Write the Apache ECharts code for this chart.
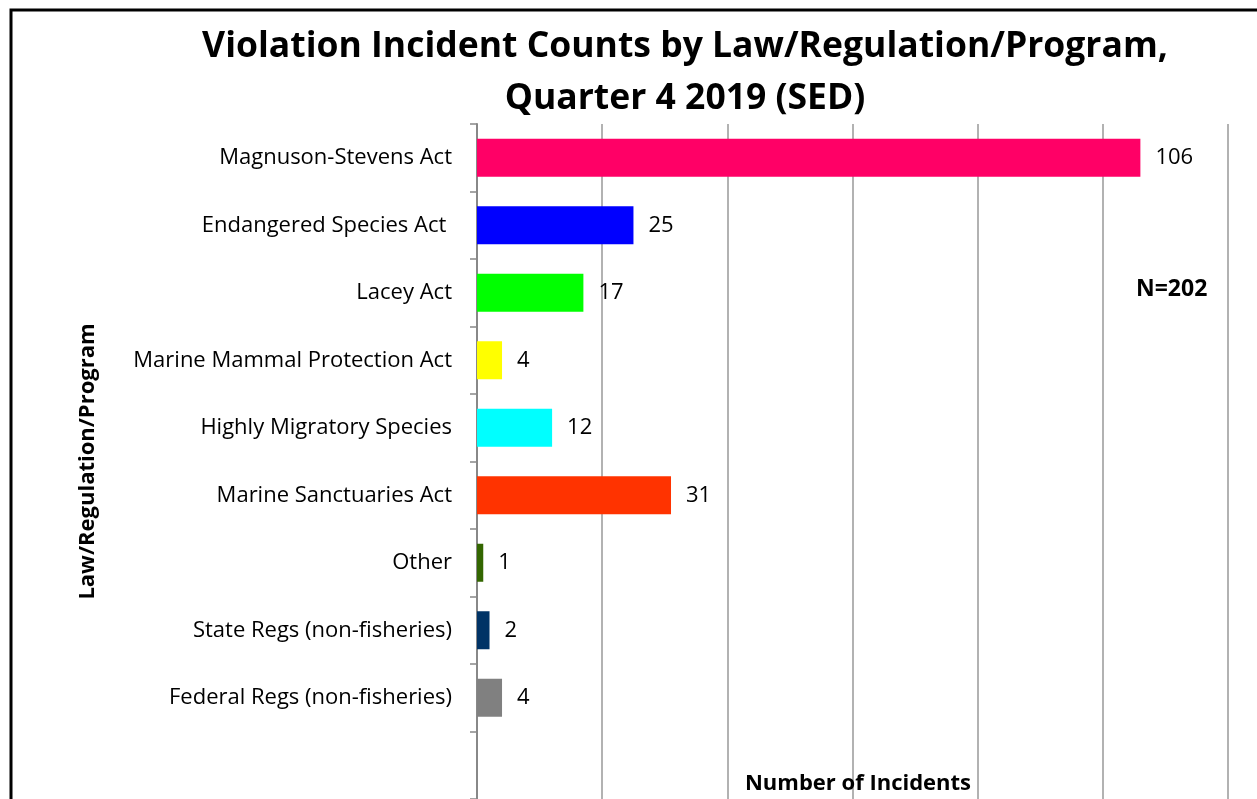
<!DOCTYPE html>
<html>
<head>
<meta charset="utf-8" />
<title>Violation Incident Counts</title>
<script src="https://cdn.jsdelivr.net/npm/echarts@6/dist/echarts.min.js"></script>
<style>
  html, body { margin: 0; padding: 0; background: #fff; }
  #chart { width: 1257px; height: 799px; }
</style>
</head>
<body>
<div id="chart"></div>
<script type="text/javascript">
// categories, top to bottom (last slot is empty in the original)
var categories = [
  'Magnuson-Stevens Act',
  'Endangered Species Act ',
  'Lacey Act',
  'Marine Mammal Protection Act',
  'Highly Migratory Species',
  'Marine Sanctuaries Act',
  'Other',
  'State Regs (non-fisheries)',
  'Federal Regs (non-fisheries)',
  ''
];
var counts = [106, 25, 17, 4, 12, 31, 1, 2, 4, null];
var barColors = ['#FF0066', '#0000FF', '#00FF00', '#FFFF00', '#00FFFF', '#FF3300', '#336600', '#003366', '#808080', '#808080'];

var font = '"Open Sans", Lato, sans-serif';

var chart = echarts.init(document.getElementById('chart'));

var barData = counts.map(function (v, i) {
  return { value: v, itemStyle: { color: barColors[i] } };
});

var option = {
  backgroundColor: '#fff',
  animation: false,
  title: [{
    text: 'Violation Incident Counts by Law/Regulation/Program,\nQuarter 4 2019 (SED)',
    left: 680,
    top: 16,
    textAlign: 'center',
    textStyle: { fontFamily: font, fontSize: 35.5, fontWeight: 'bold', color: '#000', lineHeight: 52 }
  }, {
    text: 'N=202',
    left: 1131,
    top: 273,
    textStyle: { fontFamily: font, fontSize: 23, fontWeight: 'bold', color: '#000' }
  }, {
    text: 'Number of Incidents',
    left: 853,
    top: 768,
    textAlign: 'center',
    textStyle: { fontFamily: font, fontSize: 22, fontWeight: 'bold', color: '#000' }
  }],
  graphic: [{
    type: 'rect',
    shape: { x: 11, y: 10, width: 1400, height: 900 },
    style: { fill: 'none', stroke: '#000', lineWidth: 3 },
    silent: true
  }],
  grid: { left: 477, right: 29, top: 124, bottom: -1 },
  xAxis: {
    type: 'value',
    min: 0,
    max: 120,
    interval: 20,
    axisLabel: { show: false },
    axisTick: { show: false },
    axisLine: { show: false },
    splitLine: { show: true, lineStyle: { color: '#999', width: 1.5 } }
  },
  yAxis: {
    type: 'category',
    inverse: true,
    data: categories,
    name: 'Law/Regulation/Program',
    nameLocation: 'middle',
    nameGap: 378,
    nameRotate: 90,
    nameTextStyle: { fontFamily: font, fontSize: 22, fontWeight: 'bold', color: '#000' },
    axisLine: { show: true, lineStyle: { color: '#888', width: 2 } },
    axisTick: { show: true, length: 7, lineStyle: { color: '#888', width: 1.5 } },
    axisLabel: { fontFamily: font, fontSize: 22, color: '#000', margin: 25 }
  },
  series: [{
    type: 'bar',
    data: barData,
    barWidth: 38,
    label: {
      show: true,
      position: 'right',
      distance: 15,
      fontFamily: font,
      fontSize: 22,
      color: '#000'
    }
  }]
};

chart.setOption(option);
</script>
</body>
</html>
